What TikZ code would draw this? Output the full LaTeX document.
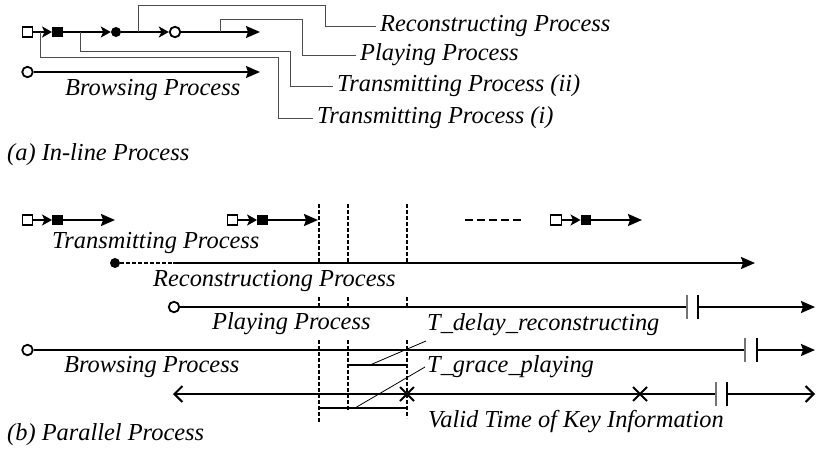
\documentclass[tikz,border=0pt]{standalone}
\usepackage{fontspec}
\setmainfont{Liberation Serif}
\usetikzlibrary{arrows.meta}
\begin{document}
\begin{tikzpicture}[x=1pt,y=-1pt,
  lbl/.style={font=\fontsize{24.4}{29}\selectfont\itshape, inner sep=0pt, anchor=west},
  proc/.style={line width=2.1pt},
  parr/.style={-{Stealth[length=14pt,width=12pt,inset=2pt]}},
  sarr/.style={-{Stealth[length=10pt,width=11pt,inset=2.5pt]}},
  conn/.style={line width=0.9pt, draw=black!70},
  lead/.style={line width=0.8pt},
  osq/.style={draw, line width=1.4pt, fill=white, minimum width=10.5pt, minimum height=10pt, inner sep=0pt},
  fsq/.style={fill=black, minimum width=10.5pt, minimum height=10pt, inner sep=0pt},
  fdot/.style={circle, fill=black, minimum size=10pt, inner sep=0pt},
  odot/.style={circle, draw, line width=1.8pt, fill=white, minimum size=10.5pt, inner sep=0pt},
  vdash/.style={line width=1.6pt, dash pattern=on 3.5pt off 2.5pt},
  hdash/.style={line width=2pt, dash pattern=on 3.5pt off 2.5pt},
  bigdash/.style={line width=2.1pt, dash pattern=on 8pt off 4pt},
  tick/.style={line width=1.2pt},
]
\useasboundingbox (0,0) rectangle (817,450);

% ---------------- (a) In-line Process ----------------
\node[osq]  (aS)  at (27.5,32) {};
\node[fsq]  (aF)  at (57.5,32) {};
\node[fdot] (aD)  at (116,32) {};
\node[odot] (aO)  at (175,32) {};
\coordinate (aE) at (260,32);
\draw[proc,sarr] (aS.east) -- (aF.west);
\draw[proc,sarr] (aF.east) -- (aD.west);
\draw[proc,sarr] (aD.east) -- (aO.west);
\draw[proc,parr] (aO.east) -- (aE);

\node[odot] (aBO) at (27.5,72) {};
\coordinate (aBE) at (260,72);
\draw[proc,parr] (aBO.east) -- (aBE);
\node[lbl] (aBL) at (65,90) {Browsing Process};

\node[lbl] (lRec) at (380,26) {Reconstructing Process};
\node[lbl] (lPla) at (360,55) {Playing Process};
\node[lbl] (lT2)  at (337,86) {Transmitting Process (ii)};
\node[lbl] (lT1)  at (317,118) {Transmitting Process (i)};

\coordinate (cRec) at (138,32);
\coordinate (cPla) at (220,32);
\coordinate (cT2)  at (80,32);
\coordinate (cT1)  at (40,32);
\draw[conn] (cRec) |- (325,5) |- ([xshift=-4pt]lRec.west);
\draw[conn] (cPla) |- (302,19) |- ([xshift=-4pt]lPla.west);
\draw[conn] (cT2)  |- (290,51) |- ([xshift=-4pt]lT2.west);
\draw[conn] (cT1)  |- (278,57) |- ([xshift=-4pt]lT1.west);

\node[lbl] (capA) at (7,155) {(a) In-line Process};

% ---------------- (b) Parallel Process ----------------
% row 1: transmitting
\node[osq] (t1S) at (27.5,220) {};
\node[fsq] (t1F) at (57.5,220) {};
\coordinate (t1E) at (115,220);
\draw[proc,sarr] (t1S.east) -- (t1F.west);
\draw[proc,parr] (t1F.east) -- (t1E);

\node[osq] (t2S) at (232.5,220) {};
\node[fsq] (t2F) at (262.5,220) {};
\coordinate (t2E) at (318,220);
\draw[proc,sarr] (t2S.east) -- (t2F.west);
\draw[proc,parr] (t2F.east) -- (t2E);

\coordinate (dA) at (465,220);
\coordinate (dB) at (523,220);
\draw[bigdash] (dA) -- (dB);

\node[osq] (t3S) at (556,220) {};
\node[fsq] (t3F) at (586,220) {};
\coordinate (t3E) at (642,220);
\draw[proc,sarr] (t3S.east) -- (t3F.west);
\draw[proc,parr] (t3F.east) -- (t3E);

\node[lbl] (lTr) at (52,243) {Transmitting Process};

% row 2: reconstructing
\node[fdot] (rD) at (115,263) {};
\coordinate (rM) at (173,263);
\coordinate (rE) at (755,263);
\draw[hdash] (rD.east) -- (rM);
\draw[proc,parr] (rM) -- (rE);
\node[lbl] (lRc) at (153,281) {Reconstructiong Process};

% row 3: playing
\node[odot] (pO) at (174,307) {};
\coordinate (pB1) at (687,307);
\coordinate (pB2) at (698,307);
\coordinate (pE) at (815,307);
\draw[proc] (pO.east) -- (pB1);
\draw[proc,parr] (pB2) -- (pE);
\draw[tick,draw=black!55] ([yshift=12pt]pB1) -- ([yshift=-12pt]pB1);
\draw[tick] ([yshift=12pt]pB2) -- ([yshift=-12pt]pB2);
\node[lbl] (lPl) at (212,324) {Playing Process};
\node[lbl] (lTd) at (427,325) {T\_delay\_reconstructing};

% row 4: browsing
\node[odot] (bO) at (27.5,350) {};
\coordinate (bB1) at (745,350);
\coordinate (bB2) at (757,350);
\coordinate (bE) at (815,350);
\draw[proc] (bO.east) -- (bB1);
\draw[proc,parr] (bB2) -- (bE);
\draw[tick,draw=black!55] ([yshift=12pt]bB1) -- ([yshift=-12pt]bB1);
\draw[tick] ([yshift=12pt]bB2) -- ([yshift=-12pt]bB2);
\node[lbl] (lBr) at (64,367) {Browsing Process};
\node[lbl] (lTg) at (427,367) {T\_grace\_playing};

% row 5: valid time
\coordinate (vL) at (173,394);
\coordinate (vB1) at (716,394);
\coordinate (vB2) at (727,394);
\coordinate (vR) at (815,394);
\draw[proc,{Straight Barb[length=8pt,width=16pt]}-] (vL) -- (vB1);
\draw[proc,-{Straight Barb[length=8pt,width=16pt]}] (vB2) -- (vR);
\draw[tick,draw=black!55] ([yshift=12pt]vB1) -- ([yshift=-12pt]vB1);
\draw[tick] ([yshift=12pt]vB2) -- ([yshift=-12pt]vB2);
\coordinate (x1) at (407,394);
\coordinate (x2) at (640,394);
\draw[proc] ([shift={(-7,-7)}]x1) -- ([shift={(7,7)}]x1);
\draw[proc] ([shift={(-7,7)}]x1) -- ([shift={(7,-7)}]x1);
\draw[proc] ([shift={(-7,-7)}]x2) -- ([shift={(7,7)}]x2);
\draw[proc] ([shift={(-7,7)}]x2) -- ([shift={(7,-7)}]x2);
\node[lbl] (lVa) at (428,422) {Valid Time of Key Information};

% dashed time markers
\draw[vdash] (319,204) -- (319,263) (319,297) -- (319,307) (319,340) -- (319,423);
\draw[vdash] (348,204) -- (348,263) (348,297) -- (348,307) (348,340) -- (348,410);
\draw[vdash] (407,204) -- (407,263) (407,297) -- (407,307) (407,340) -- (407,418);

% intervals and leaders
\coordinate (dlA) at (348,365);
\coordinate (dlB) at (407,365);
\coordinate (grA) at (319,408);
\coordinate (grB) at (407,408);
\draw[proc] (dlA) -- (dlB);
\draw[proc] (grA) -- (grB);
\coordinate (ldS) at (370,365);
\coordinate (ldE) at (426,341);
\coordinate (lgS) at (355,408);
\coordinate (lgE) at (425,367);
\draw[lead] (ldS) -- (ldE);
\draw[lead] (lgS) -- (lgE);

\node[lbl] (capB) at (7,435) {(b) Parallel Process};
\end{tikzpicture}
\end{document}
